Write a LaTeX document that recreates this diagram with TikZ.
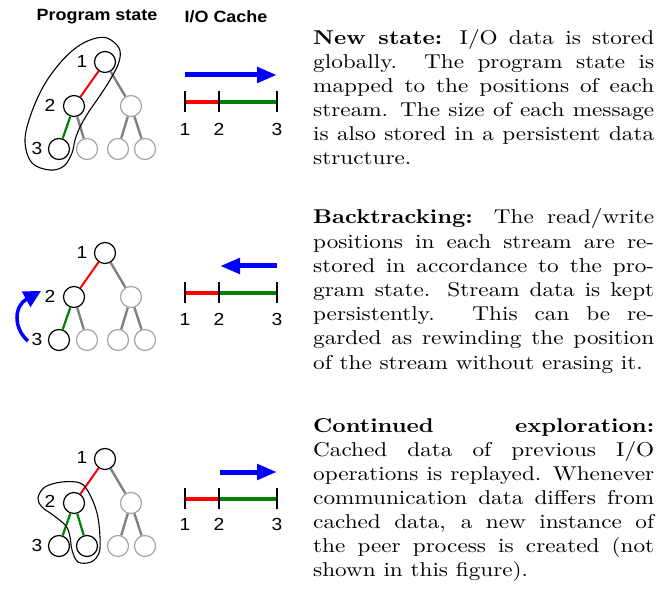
\documentclass[tikz,border=0pt]{standalone}
\usepackage{fontspec}
\setmainfont{lmroman10-regular.otf}[BoldFont=lmroman10-bold.otf, ItalicFont=lmroman10-italic.otf, BoldItalicFont=lmroman10-bolditalic.otf, FakeStretch=1.16]
\newfontfamily\arialf{Liberation Sans}[FakeStretch=1.1]
\usetikzlibrary{arrows.meta}
\definecolor{edgegray}{RGB}{128,128,128}
\definecolor{circgray}{RGB}{165,165,165}
\definecolor{dkgreen}{RGB}{0,128,0}
\begin{document}
\begin{tikzpicture}[x=1pt,y=-1pt,
  head/.style={font=\arialf\bfseries\fontsize{16.3}{20}\selectfont, inner sep=0},
  lbl/.style={font=\arialf\fontsize{17.5}{20}\selectfont, inner sep=0},
  st/.style={circle, draw=black, line width=1.2pt, minimum size=21pt, inner sep=0},
  gst/.style={circle, draw=circgray, line width=1.2pt, minimum size=21pt, inner sep=0},
  redge/.style={draw=red, line width=2pt},
  gedge/.style={draw=dkgreen, line width=2.2pt},
  eedge/.style={draw=edgegray, line width=2.4pt},
  lasso/.style={draw=black, line width=1.1pt},
  bigarrow/.style={draw=blue, line width=5pt, -{Triangle[length=20pt,width=15pt]}},
  redseg/.style={draw=red, line width=4.5pt},
  greenseg/.style={draw=dkgreen, line width=4.5pt},
  tick/.style={draw=black, line width=1.1pt},
  para/.style={anchor=base west, inner sep=0}
]
\useasboundingbox (0,0) rectangle (661,593);

% headings
\node[head] (h1) at (97,17) {Program state};
\node[head] (h2) at (226,17) {I/O Cache};

% ---------- panel 1 ----------
\node[st] (a1) at (105,62) {};
\node[st] (a2) at (74,106) {};
\node[st] (a3) at (59,149) {};
\node[gst] (a4) at (131,106) {};
\node[gst] (a5) at (87,149) {};
\node[gst] (a6) at (118,149) {};
\node[gst] (a7) at (145,149) {};
\draw[redge] (a1) -- (a2);
\draw[gedge] (a2) -- (a3);
\draw[eedge] (a2) -- (a5);
\draw[eedge] (a1) -- (a4);
\draw[eedge] (a4) -- (a6);
\draw[eedge] (a4) -- (a7);
\node[lbl] (la1) at (82,61) {1};
\node[lbl] (la2) at (50,105) {2};
\node[lbl] (la3) at (37,148) {3};
\draw[lasso] plot[smooth cycle, tension=0.6] coordinates {(107,38) (119,48) (119,62) (110,80) (99,97) (88,113) (80,127) (75,140) (72,153) (64,166) (50,170) (32,163) (25,142) (30,117) (43,87) (60,63) (77,47) (93,39)};

\coordinate (pa0) at (185,75);
\coordinate (pa1) at (277,75);
\draw[bigarrow] (pa0) -- (pa1);
\coordinate (ta1) at (185,102);
\coordinate (ta2) at (219,102);
\coordinate (ta3) at (277,102);
\draw[redseg] (ta1) -- (ta2);
\draw[greenseg] (ta2) -- (ta3);
\foreach \t in {ta1,ta2,ta3} \draw[tick] ([yshift=-10pt]\t) -- ([yshift=11pt]\t);
\node[lbl] (na1) at (185,129) {1};
\node[lbl] (na2) at (219,129) {2};
\node[lbl] (na3) at (277,129) {3};

\node[para] (p1) at (313,45) {\parbox[t]{341pt}{\fontsize{20}{24}\selectfont\sloppy
\textbf{New state:} I/O data is stored\linebreak globally. The program state is\linebreak mapped to the positions of each\linebreak stream. The size of each message\linebreak is also stored in a persistent data\linebreak structure.\par}};

% ---------- panel 2 ----------
\node[st] (b1) at (105,253) {};
\node[st] (b2) at (74,297) {};
\node[st] (b3) at (59,340) {};
\node[gst] (b4) at (131,297) {};
\node[gst] (b5) at (87,340) {};
\node[gst] (b6) at (118,340) {};
\node[gst] (b7) at (145,340) {};
\draw[redge] (b1) -- (b2);
\draw[gedge] (b2) -- (b3);
\draw[eedge] (b2) -- (b5);
\draw[eedge] (b1) -- (b4);
\draw[eedge] (b4) -- (b6);
\draw[eedge] (b4) -- (b7);
\node[lbl] (lb1) at (82,252) {1};
\node[lbl] (lb2) at (50,296) {2};
\node[lbl] (lb3) at (37,339) {3};
\coordinate (cs) at (28,341);
\coordinate (ce) at (41,291);
\draw[draw=blue, line width=3.5pt, -{Triangle[length=17pt,width=17pt]}] (cs) .. controls (13,328) and (14,306) .. (ce);

\coordinate (pb0) at (277,266);
\coordinate (pb1) at (220,266);
\draw[bigarrow] (pb0) -- (pb1);
\coordinate (tb1) at (185,293);
\coordinate (tb2) at (219,293);
\coordinate (tb3) at (277,293);
\draw[redseg] (tb1) -- (tb2);
\draw[greenseg] (tb2) -- (tb3);
\foreach \t in {tb1,tb2,tb3} \draw[tick] ([yshift=-10pt]\t) -- ([yshift=11pt]\t);
\node[lbl] (nb1) at (185,319) {1};
\node[lbl] (nb2) at (219,319) {2};
\node[lbl] (nb3) at (277,319) {3};

\node[para] (p2) at (313,224) {\parbox[t]{341pt}{\fontsize{20}{24.2}\selectfont\sloppy
\textbf{Backtracking:} The read/write\linebreak positions in each stream are re-\linebreak stored in accordance to the pro-\linebreak gram state. Stream data is kept\linebreak persistently. This can be re-\linebreak garded as rewinding the position\linebreak of the stream without erasing it.\par}};

% ---------- panel 3 ----------
\node[st] (c1) at (105,459) {};
\node[st] (c2) at (74,503) {};
\node[st] (c3) at (59,546) {};
\node[gst] (c4) at (131,503) {};
\node[st] (c5) at (87,546) {};
\node[gst] (c6) at (118,546) {};
\node[gst] (c7) at (145,546) {};
\draw[redge] (c1) -- (c2);
\draw[gedge] (c2) -- (c3);
\draw[gedge] (c2) -- (c5);
\draw[eedge] (c1) -- (c4);
\draw[eedge] (c4) -- (c6);
\draw[eedge] (c4) -- (c7);
\node[lbl] (lc1) at (82,457) {1};
\node[lbl] (lc2) at (50,501) {2};
\node[lbl] (lc3) at (37,545) {3};
\draw[lasso] plot[smooth cycle, tension=0.6] coordinates {(38,498) (45,487) (62,482) (80,483) (89,493) (97,513) (100,537) (99,553) (91,562) (78,562) (72,550) (70,537) (66,526) (53,515) (42,507)};

\coordinate (pc0) at (220,472);
\coordinate (pc1) at (277,472);
\draw[bigarrow] (pc0) -- (pc1);
\coordinate (tc1) at (185,499);
\coordinate (tc2) at (219,499);
\coordinate (tc3) at (277,499);
\draw[redseg] (tc1) -- (tc2);
\draw[greenseg] (tc2) -- (tc3);
\foreach \t in {tc1,tc2,tc3} \draw[tick] ([yshift=-10pt]\t) -- ([yshift=11pt]\t);
\node[lbl] (nc1) at (185,524) {1};
\node[lbl] (nc2) at (219,524) {2};
\node[lbl] (nc3) at (277,524) {3};

\node[para] (p3) at (313,432) {\parbox[t]{341pt}{\fontsize{20}{24}\selectfont\sloppy
\textbf{Continued exploration:}\linebreak Cached data of previous I/O\linebreak operations is replayed. Whenever\linebreak communication data differs from\linebreak cached data, a new instance of\linebreak the peer process is created (not\linebreak shown in this figure).\par}};
\end{tikzpicture}
\end{document}
